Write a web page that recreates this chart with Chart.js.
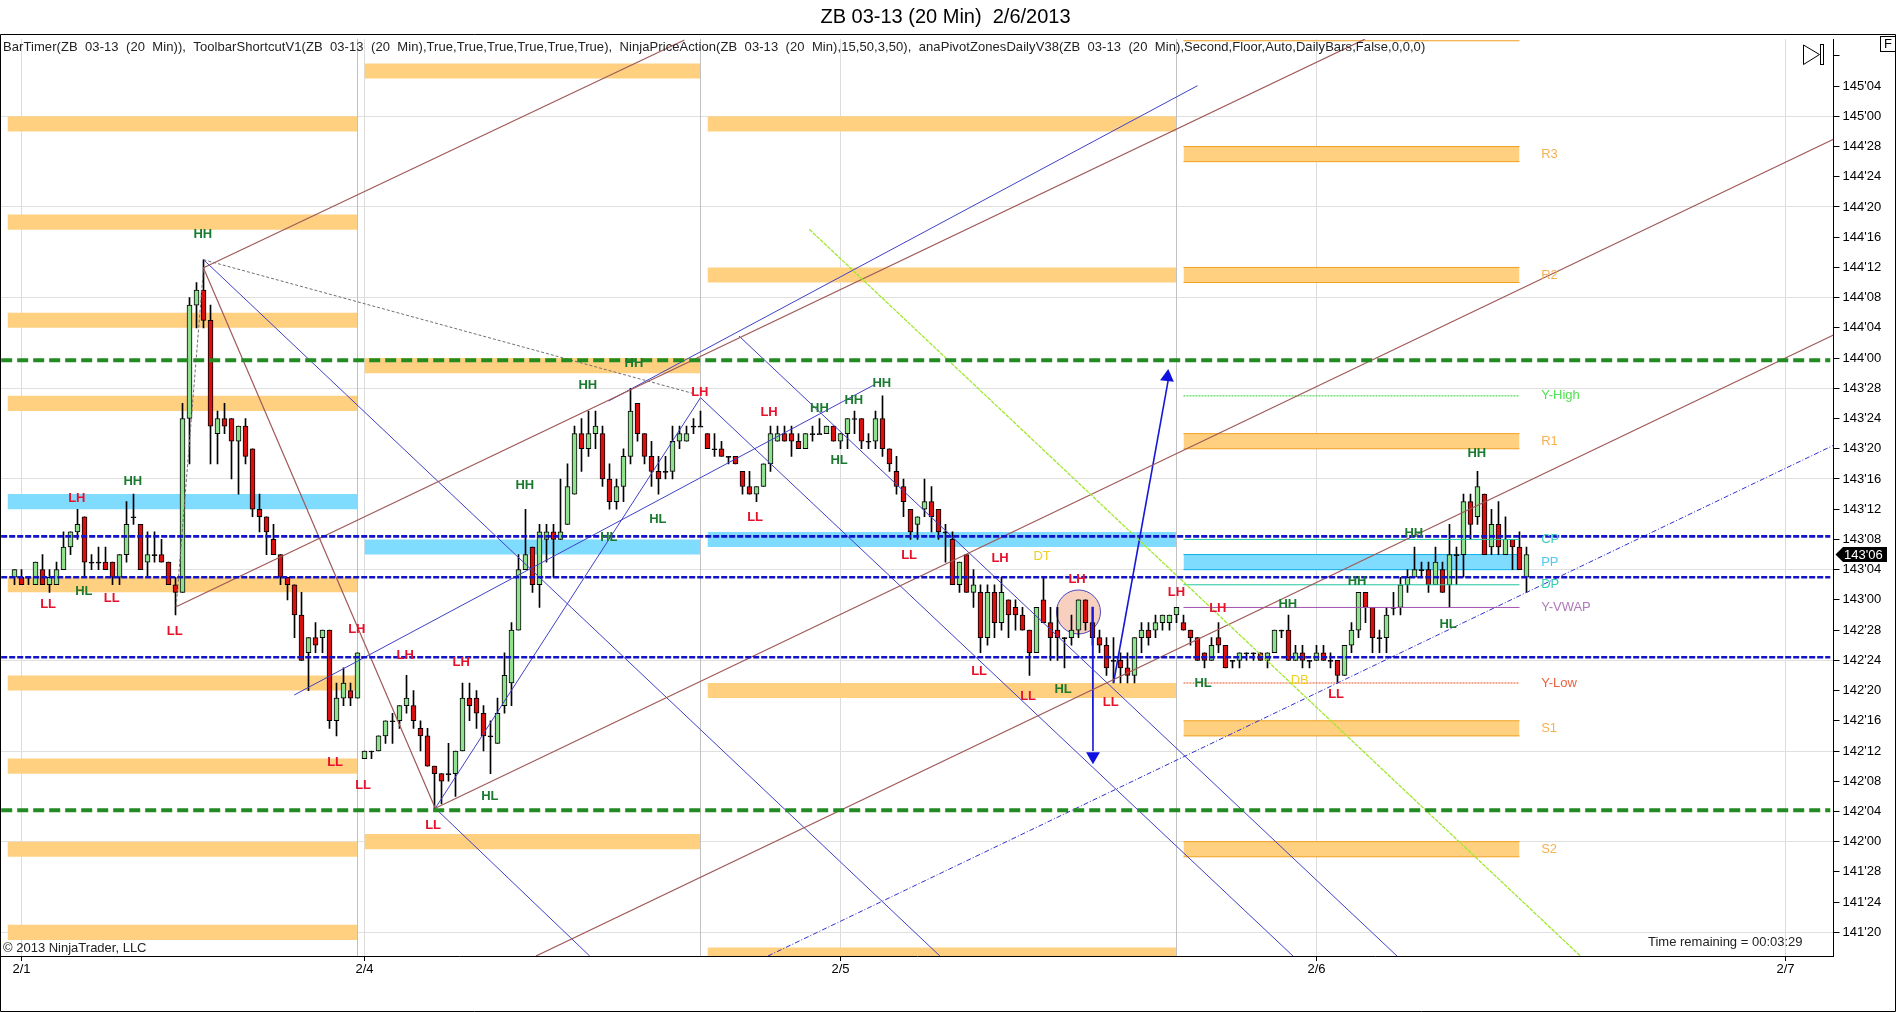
<!DOCTYPE html>
<html>
<head>
<meta charset="utf-8">
<title>ZB 03-13 (20 Min)</title>
<script src="https://cdn.jsdelivr.net/npm/chart.js@4/dist/chart.umd.js"></script>
<style>
  html, body { margin: 0; padding: 0; background: #fff; overflow: hidden; }
  canvas { display: block; }
</style>
</head>
<body>
<canvas id="myChart" width="1896" height="1012"></canvas>
<script>
// prices are 32nds above 142'00 (143'04 = 36), bars are numbered from 0
const opens = [35,35,35,34,36,34,34,36,39,41,43,37,37,37,37,35,38,43,42,37,38,38,37,34,33,56,71,73,69,54,56,56,53,55,52,44,43,40,38,35,34,30,25,27,27,28,16,19,20,19,
  11,12,12,14,16,16,18,18,15,14,10,9,9,9,12,19,19,17,14,13,18,21,28,36,39,34,40,41,40,42,46,54,52,54,54,48,45,47,51,58,54,51,49,49,49,53,53,55,55,
  54,52,52,51,51,49,47,46,47,50,53,54,54,53,52,54,54,54,55,53,54,56,56,53,53,56,52,49,47,44,42,44,45,44,41,40,34,38,33,33,27,33,29,32,31,30,28,25,32,29,28,27,27,28,32,29,27,26,24,24,23,22,27,28,28,29,29,30,
  29,28,27,25,24,27,26,24,24,25,25,25,24,25,28,28,24,25,24,24,25,24,24,22,26,28,33,31,27,27,31,31,34,35,36,36,34,36,34,38,38,45,43,46,39,42,38,40,39,35];
const closes = [36,34,35,37,34,35,36,39,41,42,37,37,37,36,35,38,42,43,36,38,38,37,34,33,56,71,73,69,55,56,55,53,55,51,44,43,41,38,35,34,30,24,27,26,28,16,19,21,19,25,
  12,12,14,16,16,18,19,16,14,10,9,8,9,12,19,18,17,14,14,17,22,28,36,38,34,41,41,40,41,47,54,52,54,55,48,45,47,51,57,54,51,49,48,49,53,54,54,55,55,
  52,52,51,51,50,47,46,47,50,54,54,53,53,52,54,54,54,55,53,54,56,56,53,53,56,52,50,47,45,41,43,45,43,41,41,34,37,33,34,27,33,29,33,30,30,28,25,31,29,27,27,27,28,32,29,27,26,23,24,23,22,27,28,27,29,30,30,31,
  28,27,24,24,26,26,23,24,25,25,25,24,25,28,28,24,25,24,24,25,24,24,22,26,28,33,31,27,27,30,31,34,35,36,36,34,37,33,38,38,45,42,47,38,42,39,40,39,36,38];
const highs = [36,36,35,37,38,36,37,41,41,44,43,38,39,39,37,38,45,46,42,41,41,40,37,35,58,72,74,77,71,57,58,56,55,56,52,46,43,42,38,35,34,33,27,29,28,28,21,23,21,25,
  12,12,14,16,17,18,22,20,16,15,10,9,13,12,21,21,20,18,16,19,25,29,38,44,39,42,42,42,48,50,55,56,57,57,55,50,48,52,60,58,54,53,51,51,55,55,55,56,57,
  54,54,53,51,51,49,49,47,50,55,55,55,55,54,54,55,56,55,55,54,56,57,56,54,57,59,52,51,48,44,43,48,47,44,42,41,37,38,36,34,34,34,35,32,32,31,28,31,35,31,31,27,30,32,32,31,28,27,27,25,25,27,29,29,30,30,30,31,
  30,28,27,25,27,29,26,24,25,25,25,25,25,28,28,30,26,26,24,26,26,25,24,26,29,33,33,31,28,31,33,35,36,39,37,37,39,37,42,39,46,46,49,46,44,45,43,40,41,39];
const lows = [34,34,34,34,34,33,34,36,38,40,35,36,36,36,34,34,37,42,36,35,37,37,34,30,33,50,68,68,50,50,54,48,46,50,43,41,38,38,34,32,27,24,20,25,25,15,14,18,18,19,
  11,11,12,13,13,15,17,15,12,10,4,5,8,6,12,16,15,12,9,13,17,18,28,36,33,31,37,35,40,42,46,49,51,52,47,44,44,45,50,53,50,47,46,48,48,52,53,54,55,
  52,51,51,50,50,46,46,45,47,49,53,53,51,52,52,53,54,54,53,52,52,54,52,52,52,51,49,46,43,40,40,43,41,40,37,34,33,33,31,25,26,27,28,27,28,28,22,25,29,24,24,23,26,27,28,26,25,22,21,21,21,21,25,26,27,28,28,29,
  28,26,24,23,24,25,23,23,23,24,24,24,23,25,27,24,24,23,23,24,24,23,21,22,25,27,29,25,25,25,30,30,33,35,35,33,34,33,31,34,35,40,42,38,38,38,38,36,36,33];

const yTickValues = [-12,-8,-4,0,4,8,12,16,20,24,28,32,36,40,44,48,52,56,60,64,68,72,76,80,84,88,92,96,100,104];
const yTickLabels = ["141'20","141'24","141'28","142'00","142'04","142'08","142'12","142'16","142'20","142'24","142'28","143'00","143'04","143'08","143'12","143'16","143'20","143'24","143'28","144'00","144'04","144'08","144'12","144'16","144'20","144'24","144'28","145'00","145'04",""];
const dateTickValues = [1,50,118,186,253];
const dateTickLabels = ['2/1','2/4','2/5','2/6','2/7'];
const sessionBreaks = [49,98,166];

// pivot zones per session
const sessionStarts = [-1,50,99,167];
const sessionEnds = [49,98,166,215];
const orangeSession = [0,0,0,0,0,0,0,0,0, 1,1,1, 2,2,2,2, 3,3,3,3,3];
const orangeTop = [96,83,70,59,35,22,11,0,-11, 103,64,1, 96,76,21,-14, 92,76,54,16,0];
const orangeBottom = [94,81,68,57,33,20,9,-2,-13, 101,62,-1, 94,74,19,-16, 90,74,52,14,-2];
const blueSession = [0,1,2,3];
const blueTop = [46,40,41,38];
const blueBottom = [44,38,39,36];

// levels of the last session
const levelNames = ['Y-High','CP','DP','Y-VWAP','Y-Low'];
const levelValues = [59,40,34,31,21];
const sideNames = ['R3','R2','R1','Y-High','CP','PP','DP','Y-VWAP','Y-Low','S1','S2'];
const sideValues = [91,75,53,59,40,37,34,31,21,15,-1];

const greenDashed = [63.7,4.15];
const blueDashed = [40.4,35,24.4];

// trend lines: [bar, price, bar, price]
const brownLines = [
  [26.93,75.92,95.7,106.1],
  [23.09,31.1,192.9,106.2],
  [60.11,4.42,259.86,92.96],
  [74.5,-15.13,259.86,67.06],
  [27,75.92,60.11,4.42]
];
const blueLines = [
  [27,77.02,132.2,-15.13],
  [60.11,4.42,82.17,-15.13],
  [98,58.76,182.64,-15.13],
  [103.5,66.92,197.5,-15.13],
  [39.96,19.41,122.76,60.44],
  [84.87,58.32,169,100.05],
  [60.11,4.42,98,58.76]
];
const dashDotLine = [107.64,-15.13,259.86,52.46];
const limeLine = [113.54,81.05,223.7,-15.13];
const grayLines = [
  [27,77.02,96.86,59.34],
  [23.09,31.1,27,75.9]
];
const arrowLines = [
  [157,21,165,62],
  [154,31.1,154.07,12]
];

// swing labels
const swingText = ['HH','LH','HL','LL','LL','LL','HH','HH','HL','LH','LH','LH','HH','LL','LL','LL','HL','LH','LH','HH','HH','HH','HL','HL','LL','LL','LH','LH','LH','LH','LL','HL','LL','LL','HL','LL','HH','HH','HH','HH','HL','HH'];
const swingBar = [26.9,8.9,9.9,4.8,13.9,22.9,81.9,72.9,84.9,48.9,55.8,63.8,88.5,45.8,49.8,59.8,67.9,97.9,107.8,115,119.9,123.9,117.8,91.9,105.8,127.8,140.8,151.8,166,171.9,137.8,149.8,144.8,156.6,169.8,188.8,208.9,199.9,191.8,181.9,204.8,16.9];
const swingPrice = [80.4,45.4,33.1,31.4,32.2,27.8,60.4,47.1,40.3,28.1,24.7,23.7,63.3,10.5,7.5,2.2,6,59.4,56.8,57.4,58.4,60.7,50.4,42.6,42.9,37.9,37.5,34.7,33,30.9,22.5,20.1,19.2,18.4,21,19.5,51.4,40.8,34.4,31.4,28.7,47.7];
const patternText = ['DT','DB'];
const patternBar = [146.8,183.6];
const patternPrice = [37.7,21.3];

const lastPrice = 38;
const lastPriceLabel = "143'06";

const FONT = '"Liberation Sans", Arial, sans-serif';
const GREEN_BODY = '#90e090';
const RED_BODY = '#d81010';

function seg(a, b, c, d) { return [{x: a, y: b}, {x: c, y: d}]; }

const datasets = [];

// zones first so everything else lands on top
function addZone(session, top, bottom, colour, edge) {
  const x0 = sessionStarts[session], x1 = sessionEnds[session];
  datasets.push({
    type: 'line', data: seg(x0, top, x1, top), order: 40, pointRadius: 0,
    borderWidth: session === 3 ? 1 : 0, borderColor: edge, backgroundColor: colour,
    fill: {target: {value: bottom}}
  });
  if (session === 3) {
    datasets.push({type: 'line', data: seg(x0, bottom, x1, bottom), order: 39, pointRadius: 0, borderWidth: 1, borderColor: edge, fill: false});
  }
}
orangeTop.forEach((t, i) => addZone(orangeSession[i], t, orangeBottom[i], '#ffd080', '#f0a020'));
blueTop.forEach((t, i) => addZone(blueSession[i], t, blueBottom[i], '#80dcff', '#10b0e8'));
datasets.push({type: 'line', data: seg(167, 106, 215, 106), order: 39, pointRadius: 0, borderWidth: 1, borderColor: '#f0a020', fill: false});

// session breaks
sessionBreaks.forEach(b => datasets.push({type: 'line', data: seg(b, -16, b, 107), order: 38, pointRadius: 0, borderWidth: 1, borderColor: '#c0c0c0', fill: false}));

// circle around the setup
datasets.push({type: 'scatter', data: [{x: 152, y: 30.4}], order: 30, pointRadius: 22, pointHoverRadius: 22, pointBackgroundColor: 'rgba(240,170,140,0.55)', pointBorderColor: '#4848c0', pointBorderWidth: 1});

// candles as floating bars, wick behind body
const wicks = highs.map((h, i) => ({x: i, y: [lows[i], h]}));
const bodies = opens.map((o, i) => ({x: i, y: [o, closes[i]]}));
datasets.push({type: 'bar', data: wicks, order: 21, barThickness: 1, grouped: false, backgroundColor: '#000', borderWidth: 0});
datasets.push({
  type: 'bar', data: bodies, order: 20, barThickness: 5, grouped: false, minBarLength: 1,
  backgroundColor: opens.map((o, i) => closes[i] > o ? GREEN_BODY : (closes[i] < o ? RED_BODY : '#000')),
  borderColor: '#000', borderWidth: 1, borderSkipped: false
});

// last session levels
const levelStyle = {
  'Y-High': ['#30d030', [2,1]], 'CP': ['#20c8a0', []], 'DP': ['#20c8a0', []],
  'Y-VWAP': ['#a050b0', []], 'Y-Low': ['#f05020', [2,1]]
};
levelNames.forEach((n, i) => {
  datasets.push({type: 'line', data: seg(167, levelValues[i], 215, levelValues[i]), order: 15, pointRadius: 0, borderWidth: 1, borderColor: levelStyle[n][0], borderDash: levelStyle[n][1], fill: false});
});

function addLine(l, colour, width, dash, order) {
  datasets.push({type: 'line', data: seg(l[0], l[1], l[2], l[3]), order: order || 10, pointRadius: 0, borderWidth: width, borderColor: colour, borderDash: dash || [], fill: false});
}
grayLines.forEach(l => addLine(l, '#707070', 1, [3,2]));
addLine(limeLine, '#a0e830', 1.3, [4,1]);
addLine(dashDotLine, '#3030d0', 1, [5,2,1,2]);
brownLines.forEach(l => addLine(l, '#a05858', 1.2));
blueLines.forEach(l => addLine(l, '#4040c8', 1));
arrowLines.forEach(l => addLine(l, '#1818d8', 1.6));

// arrow heads
datasets.push({type: 'scatter', data: [{x: 164.7, y: 61.5}, {x: 154.07, y: 11.3}], order: 9, pointStyle: 'triangle', pointRadius: 8, pointHoverRadius: 8, pointRotation: [6,180], pointBackgroundColor: '#1010e0', pointBorderWidth: 0});

// horizontal dashed levels on top of the candles
greenDashed.forEach(v => addLine([-1.9, v, 259.4, v], '#228b22', 4, [11,5], 5));
blueDashed.forEach(v => addLine([-1.9, v, 259.4, v], '#1212c8', 2.6, [6,2], 5));

const overlay = {
  id: 'overlay',
  afterDraw(chart) {
    const ctx = chart.ctx, xs = chart.scales.x, ys = chart.scales.y;
    ctx.save();
    ctx.textBaseline = 'middle';

    // indicator line
    ctx.font = '13px ' + FONT;
    ctx.fillStyle = '#222';
    ctx.textAlign = 'left';
    ctx.letterSpacing = '0.07px';
    ctx.fillText('BarTimer(ZB  03-13  (20  Min)),  ToolbarShortcutV1(ZB  03-13  (20  Min),True,True,True,True,True,True),  NinjaPriceAction(ZB  03-13  (20  Min),15,50,3,50),  anaPivotZonesDailyV38(ZB  03-13  (20  Min),Second,Floor,Auto,DailyBars,False,0,0,0)', 3, 47.5);
    ctx.letterSpacing = '0px';

    // swing labels
    ctx.font = 'bold 13px ' + FONT;
    ctx.textAlign = 'center';
    swingText.forEach((s, i) => {
      ctx.fillStyle = s[1] === 'H' && s[0] === 'H' || s === 'HL' ? '#1a7a30' : '#e8102a';
      ctx.fillText(s, xs.getPixelForValue(swingBar[i]), ys.getPixelForValue(swingPrice[i]));
    });
    ctx.font = '13px ' + FONT;
    ctx.fillStyle = '#f0d020';
    patternText.forEach((s, i) => ctx.fillText(s, xs.getPixelForValue(patternBar[i]), ys.getPixelForValue(patternPrice[i])));

    // names beside the last session
    const sideCol = {'R3': '#f5b050', 'R2': '#f5b050', 'R1': '#f5b050', 'S1': '#f5b050', 'S2': '#f5b050', 'Y-High': '#50e050', 'CP': '#40d0c0', 'PP': '#50c8f0', 'DP': '#30d0b0', 'Y-VWAP': '#b07ab8', 'Y-Low': '#ee6040'};
    ctx.textAlign = 'left';
    sideNames.forEach((s, i) => {
      ctx.fillStyle = sideCol[s];
      ctx.fillText(s, xs.getPixelForValue(218.1), ys.getPixelForValue(sideValues[i]));
    });

    // corner texts
    ctx.fillStyle = '#222';
    ctx.fillText('\u00a9 2013 NinjaTrader, LLC', 3, 948);
    ctx.fillText('Time remaining = 00:03:29', 1648, 942);

    // last price flag
    const py = ys.getPixelForValue(lastPrice);
    ctx.fillStyle = '#000';
    ctx.beginPath();
    ctx.moveTo(1835.5, py);
    ctx.lineTo(1843, py - 7.5);
    ctx.lineTo(1887, py - 7.5);
    ctx.lineTo(1887, py + 7.5);
    ctx.lineTo(1843, py + 7.5);
    ctx.closePath();
    ctx.fill();
    ctx.fillStyle = '#fff';
    ctx.fillText(lastPriceLabel, 1844, py + 0.5);

    // frame and the two chart buttons
    ctx.strokeStyle = '#000';
    ctx.lineWidth = 1;
    ctx.beginPath();
    ctx.moveTo(0.5, 34.5); ctx.lineTo(1895.5, 34.5);
    ctx.moveTo(0.5, 34.5); ctx.lineTo(0.5, 1011.5); ctx.lineTo(1895.5, 1011.5); ctx.lineTo(1895.5, 34.5);
    ctx.stroke();
    ctx.strokeRect(1880.5, 36.5, 15, 15);
    ctx.fillStyle = '#000';
    ctx.fillText('F', 1884, 44.5);
    ctx.beginPath();
    ctx.moveTo(1803.5, 45); ctx.lineTo(1819.5, 54.5); ctx.lineTo(1803.5, 64.5); ctx.closePath();
    ctx.stroke();
    ctx.strokeRect(1820.5, 44.5, 3, 20);
    ctx.restore();
  }
};

const ctx = document.getElementById('myChart').getContext('2d');
const myChart = new Chart(ctx, {
  data: {datasets: datasets},
  plugins: [overlay],
  options: {
    responsive: false,
    animation: false,
    devicePixelRatio: 1,
    events: [],
    // the big circle point would otherwise pad the plot by its radius
    layout: {autoPadding: false, padding: {left: 1, right: 6, top: 0, bottom: 0}},
    plugins: {
      legend: {display: false},
      tooltip: {enabled: false},
      title: {
        display: true,
        text: 'ZB 03-13 (20 Min)  2/6/2013',
        color: '#000',
        font: {family: FONT, size: 20, weight: 'normal', lineHeight: 1.2},
        padding: {top: 5, bottom: 10}
      }
    },
    scales: {
      x: {
        type: 'linear',
        offset: false,
        min: -1.93,
        max: 259.86,
        afterBuildTicks(s) { s.ticks = dateTickValues.map(v => ({value: v})); },
        // first tick label would push the plot right otherwise
        afterFit(s) { s.height = 56; s.paddingLeft = 0; s.paddingRight = 0; },
        ticks: {
          autoSkip: false, maxRotation: 0, padding: 1, color: '#000',
          font: {family: FONT, size: 13},
          callback: (v, i) => dateTickLabels[i]
        },
        grid: {offset: false, color: '#dcdcdc', tickColor: '#000', tickLength: 5},
        border: {color: '#000'}
      },
      y: {
        position: 'right',
        min: -15.13,
        max: 106.23,
        afterBuildTicks(s) { s.ticks = yTickValues.map(v => ({value: v})); },
        afterFit(s) { s.width = 56.5; s.paddingTop = 0; s.paddingBottom = 0; },
        ticks: {
          autoSkip: false, padding: 3, color: '#000',
          font: {family: FONT, size: 13},
          callback: (v, i) => yTickLabels[i]
        },
        grid: {
          color: c => (c.tick && c.tick.value % 12 === 0 && c.tick.value !== 104) ? '#e0e0e0' : 'rgba(0,0,0,0)',
          tickColor: '#000', tickLength: 6
        },
        border: {color: '#000'}
      }
    }
  }
});
</script>
</body>
</html>
